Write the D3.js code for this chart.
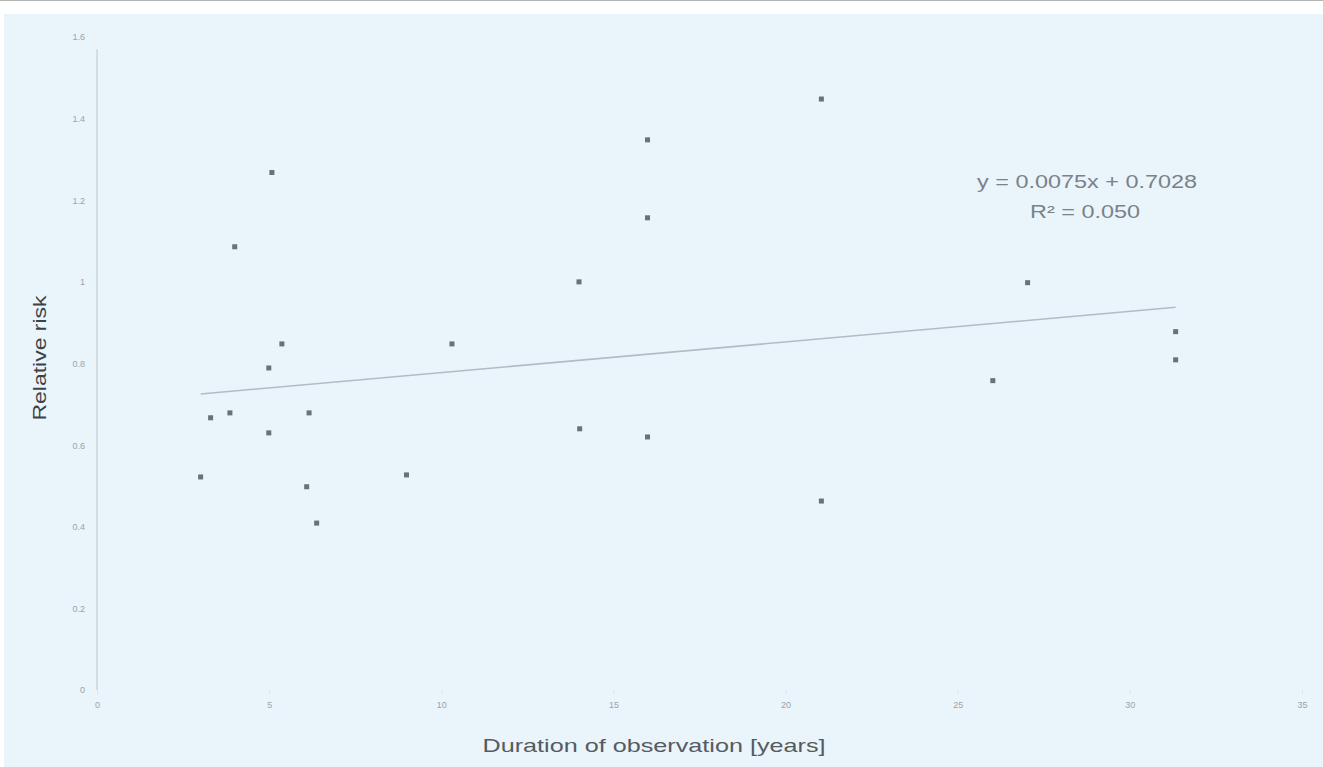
<!DOCTYPE html>
<html>
<head>
<meta charset="utf-8">
<script src="https://cdn.jsdelivr.net/npm/d3@7"></script>
<style>
  html, body { margin: 0; padding: 0; background: #ffffff; }
  svg { display: block; }
</style>
</head>
<body>
<svg id="chart" width="1323" height="767"></svg>
<script>
// Duration of observation (years) vs relative risk, one entry per study
const durationYears = [5.08, 4.0, 5.37, 4.99, 10.31, 3.30, 3.86, 4.99, 6.16, 3.01, 6.09, 8.99, 6.38,
                       21.04, 15.99, 15.99, 14.0, 14.02, 15.99, 21.04, 27.03, 31.33, 31.33, 26.02];
const relativeRisk  = [1.268, 1.086, 0.848, 0.789, 0.848, 0.667, 0.679, 0.630, 0.679, 0.522, 0.498, 0.527, 0.409,
                       1.448, 1.348, 1.157, 1.000, 0.640, 0.620, 0.463, 0.998, 0.878, 0.809, 0.758];

// Linear trend reported on the chart
const trendSlope = 0.0075;
const trendIntercept = 0.7028;
const trendR2 = "0.050";

const xTicks = [0, 5, 10, 15, 20, 25, 30, 35];
const yTicks = [0, 0.2, 0.4, 0.6, 0.8, 1, 1.2, 1.4, 1.6];

const xTitle = "Duration of observation [years]";
const yTitle = "Relative risk";

const svg = d3.select("#chart");
const W = 1323, H = 767;

// page frame: thin rule on top, pale blue panel
svg.append("rect").attr("x", 0).attr("y", 0).attr("width", W).attr("height", 1).attr("fill", "#b4b4b4");
svg.append("rect").attr("x", 4).attr("y", 14).attr("width", W - 4).attr("height", H - 14).attr("fill", "#eaf4fb");

const x = d3.scaleLinear().domain([0, 35]).range([97, 1302]);
const y = d3.scaleLinear().domain([0, 1.6]).range([690, 37]);

const fmt = d => (d === 0 || d === 1) ? String(d) : d3.format(".1f")(d);

// y axis: vertical rule and tick labels
const yAxis = d3.axisLeft(y).tickValues(yTicks).tickFormat(fmt).tickSize(0).tickPadding(12);
const gy = svg.append("g").attr("transform", `translate(${x(0)},0)`).call(yAxis);
gy.select(".domain").attr("stroke", "#cdd6dd").attr("stroke-width", 1.5)
  .attr("d", `M0,${y(0)}V${y(1.57)}`);
gy.selectAll("text").attr("fill", "#9aa3aa").attr("font-family", "Liberation Sans, Arial, sans-serif")
  .attr("font-size", 9);

// x axis: tick labels only
const xAxis = d3.axisBottom(x).tickValues(xTicks).tickFormat(d3.format("d")).tickSize(4).tickPadding(8);
const gx = svg.append("g").attr("transform", `translate(0,${y(0)})`).call(xAxis);
gx.select(".domain").remove();
gx.selectAll("line").attr("stroke", "#dde5eb");
gx.selectAll("text").attr("fill", "#9aa3aa").attr("font-family", "Liberation Sans, Arial, sans-serif")
  .attr("font-size", 9);

// trend line across the observed durations
const [x0, x1] = d3.extent(durationYears);
svg.append("line")
  .attr("x1", x(x0)).attr("y1", y(trendIntercept + trendSlope * x0))
  .attr("x2", x(x1)).attr("y2", y(trendIntercept + trendSlope * x1))
  .attr("stroke", "#b3bcc4").attr("stroke-width", 1.6);

// study points
const pts = durationYears.map((d, i) => ({ d, r: relativeRisk[i] }));
svg.append("g").selectAll("rect").data(pts).join("rect")
  .attr("x", p => x(p.d) - 2.5).attr("y", p => y(p.r) - 2.5)
  .attr("width", 5).attr("height", 5)
  .attr("fill", "#6a7178");

// regression annotation
const ann = svg.append("g").attr("font-family", "Liberation Sans, Arial, sans-serif")
  .attr("fill", "#7a8289").attr("font-size", 18).attr("text-anchor", "middle")
  .attr("lengthAdjust", "spacingAndGlyphs");
ann.append("text").attr("x", 1087).attr("y", 188)
  .attr("textLength", 220).attr("lengthAdjust", "spacingAndGlyphs")
  .text(`y = ${trendSlope}x + ${trendIntercept}`);
ann.append("text").attr("x", 1085).attr("y", 218)
  .attr("textLength", 110).attr("lengthAdjust", "spacingAndGlyphs")
  .text(`R² = ${trendR2}`);

// axis titles
svg.append("text")
  .attr("x", 654).attr("y", 752)
  .attr("text-anchor", "middle")
  .attr("font-family", "Liberation Sans, Arial, sans-serif")
  .attr("font-size", 19).attr("fill", "#555b60")
  .attr("textLength", 343).attr("lengthAdjust", "spacingAndGlyphs")
  .text(xTitle);

svg.append("text")
  .attr("transform", "translate(46,358) rotate(-90)")
  .attr("text-anchor", "middle")
  .attr("font-family", "Liberation Sans, Arial, sans-serif")
  .attr("font-size", 18).attr("fill", "#3d4247")
  .attr("textLength", 125).attr("lengthAdjust", "spacingAndGlyphs")
  .text(yTitle);
</script>
</body>
</html>
